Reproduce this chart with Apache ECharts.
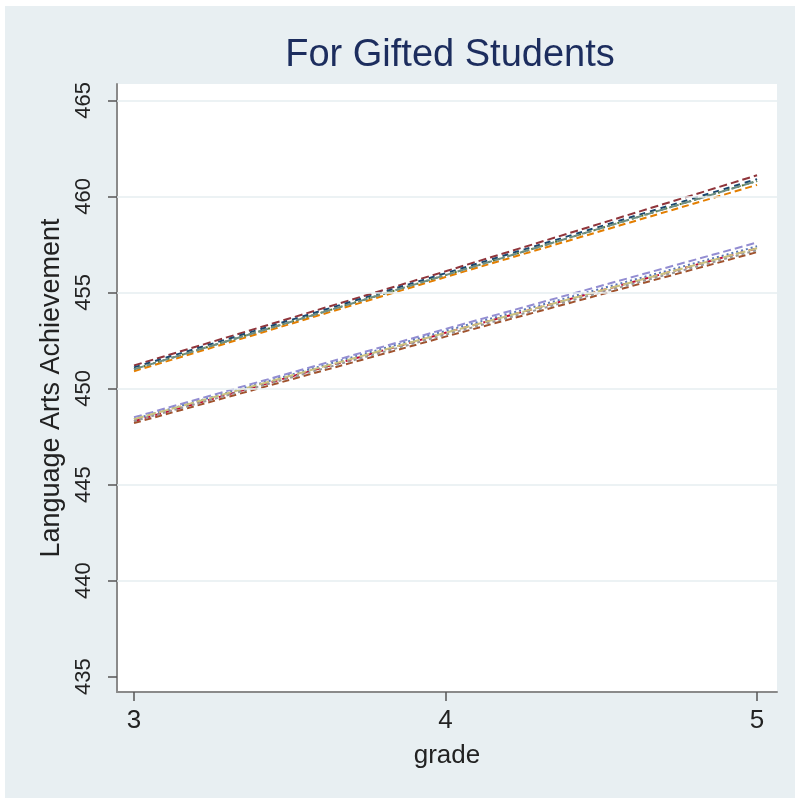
<!DOCTYPE html>
<html>
<head>
<meta charset="utf-8">
<script src="https://cdn.jsdelivr.net/npm/echarts@6/dist/echarts.min.js"></script>
<style>
  html, body { margin: 0; padding: 0; background: #ffffff; }
  #chart { width: 795px; height: 798px; }
</style>
</head>
<body>
<div id="chart"></div>
<script>
// grade on x, predicted achievement on y
const grades = [3, 4, 5];
const yTicks = [435, 440, 445, 450, 455, 460, 465];

// upper bundle
const upperA = [451.2, 456.1, 461.1];
const upperB = [451.1, 456.0, 460.9];
const upperC = [451.0, 455.9, 460.8];
const upperD = [450.9, 455.8, 460.6];
const upperE = [451.0, 455.9, 460.8];

// lower bundle
const lowerA = [448.5, 453.1, 457.6];
const lowerB = [448.3, 452.9, 457.3];
const lowerC = [448.4, 453.0, 457.4];
const lowerD = [448.2, 452.7, 457.1];
const lowerE = [448.4, 452.9, 457.3];
const lowerF = [448.3, 452.8, 457.2];

const lines = [
  { vals: upperA, color: "#90353b", dash: [8, 4] },
  { vals: upperB, color: "#1a476f", dash: [6, 5] },
  { vals: upperC, color: "#55752f", dash: [2, 3] },
  { vals: upperD, color: "#e37e00", dash: [7, 4] },
  { vals: upperE, color: "#6e8e84", dash: [10, 3] },
  { vals: lowerA, color: "#938dd2", dash: [8, 4] },
  { vals: lowerB, color: "#c10534", dash: [6, 5] },
  { vals: lowerC, color: "#5a78b4", dash: [2, 3] },
  { vals: lowerD, color: "#a0522d", dash: [7, 4] },
  { vals: lowerE, color: "#cac27e", dash: [10, 3] },
  { vals: lowerF, color: "#999999", dash: [3, 3] },
];

const chart = echarts.init(document.getElementById("chart"));

const font = "Liberation Sans";

const option = {
  backgroundColor: "#ffffff",
  animation: false,
  graphic: [
    {
      type: "rect",
      z: -10,
      silent: true,
      shape: { x: 5, y: 6, width: 790, height: 792 },
      style: { fill: "#e8eff2" },
    },
  ],
  title: {
    text: "For Gifted Students",
    left: 445,
    top: 32,
    textAlign: "center",
    textStyle: {
      fontFamily: font,
      fontWeight: "normal",
      fontSize: 38,
      color: "#1c2d5e",
    },
  },
  grid: {
    left: 117,
    right: 18,
    top: 84,
    bottom: 106,
    show: true,
    backgroundColor: "#ffffff",
    borderWidth: 0,
  },
  xAxis: {
    type: "value",
    min: 2.9454,
    max: 5.064,
    name: "grade",
    nameLocation: "middle",
    nameGap: 51,
    nameTextStyle: { fontFamily: font, fontSize: 26, color: "#222" },
    axisLine: { lineStyle: { color: "#8a8a8a", width: 2 } },
    axisTick: { customValues: grades, length: 9, lineStyle: { color: "#555", width: 1.5 } },
    axisLabel: {
      customValues: grades,
      fontFamily: font,
      fontSize: 26,
      color: "#222",
      margin: 16,
    },
    splitLine: { show: false },
  },
  yAxis: {
    type: "value",
    min: 434.2,
    max: 465.85,
    name: "Language Arts Achievement",
    nameLocation: "middle",
    nameGap: 52,
    nameRotate: 90,
    nameTextStyle: { fontFamily: font, fontSize: 27, color: "#222" },
    axisLine: { lineStyle: { color: "#8a8a8a", width: 2 } },
    axisTick: { customValues: yTicks, length: 9, lineStyle: { color: "#555", width: 1.5 } },
    axisLabel: {
      customValues: yTicks,
      rotate: 90,
      fontFamily: font,
      fontSize: 22,
      color: "#222",
      margin: 22,
    },
    splitLine: { show: false },
  },
  series: [
    {
      type: "line",
      silent: true,
      data: [],
      markLine: {
        silent: true,
        symbol: "none",
        label: { show: false },
        lineStyle: { color: "#e6eef0", type: "solid", width: 1.5 },
        data: yTicks.slice(1).map((v) => ({ yAxis: v })),
      },
    },
  ].concat(
    lines.map((l) => ({
      type: "line",
      data: l.vals.map((v, i) => [grades[i], v]),
      showSymbol: false,
      lineStyle: { color: l.color, width: 2, type: l.dash },
      z: 3,
    }))
  ),
};

chart.setOption(option);
</script>
</body>
</html>
